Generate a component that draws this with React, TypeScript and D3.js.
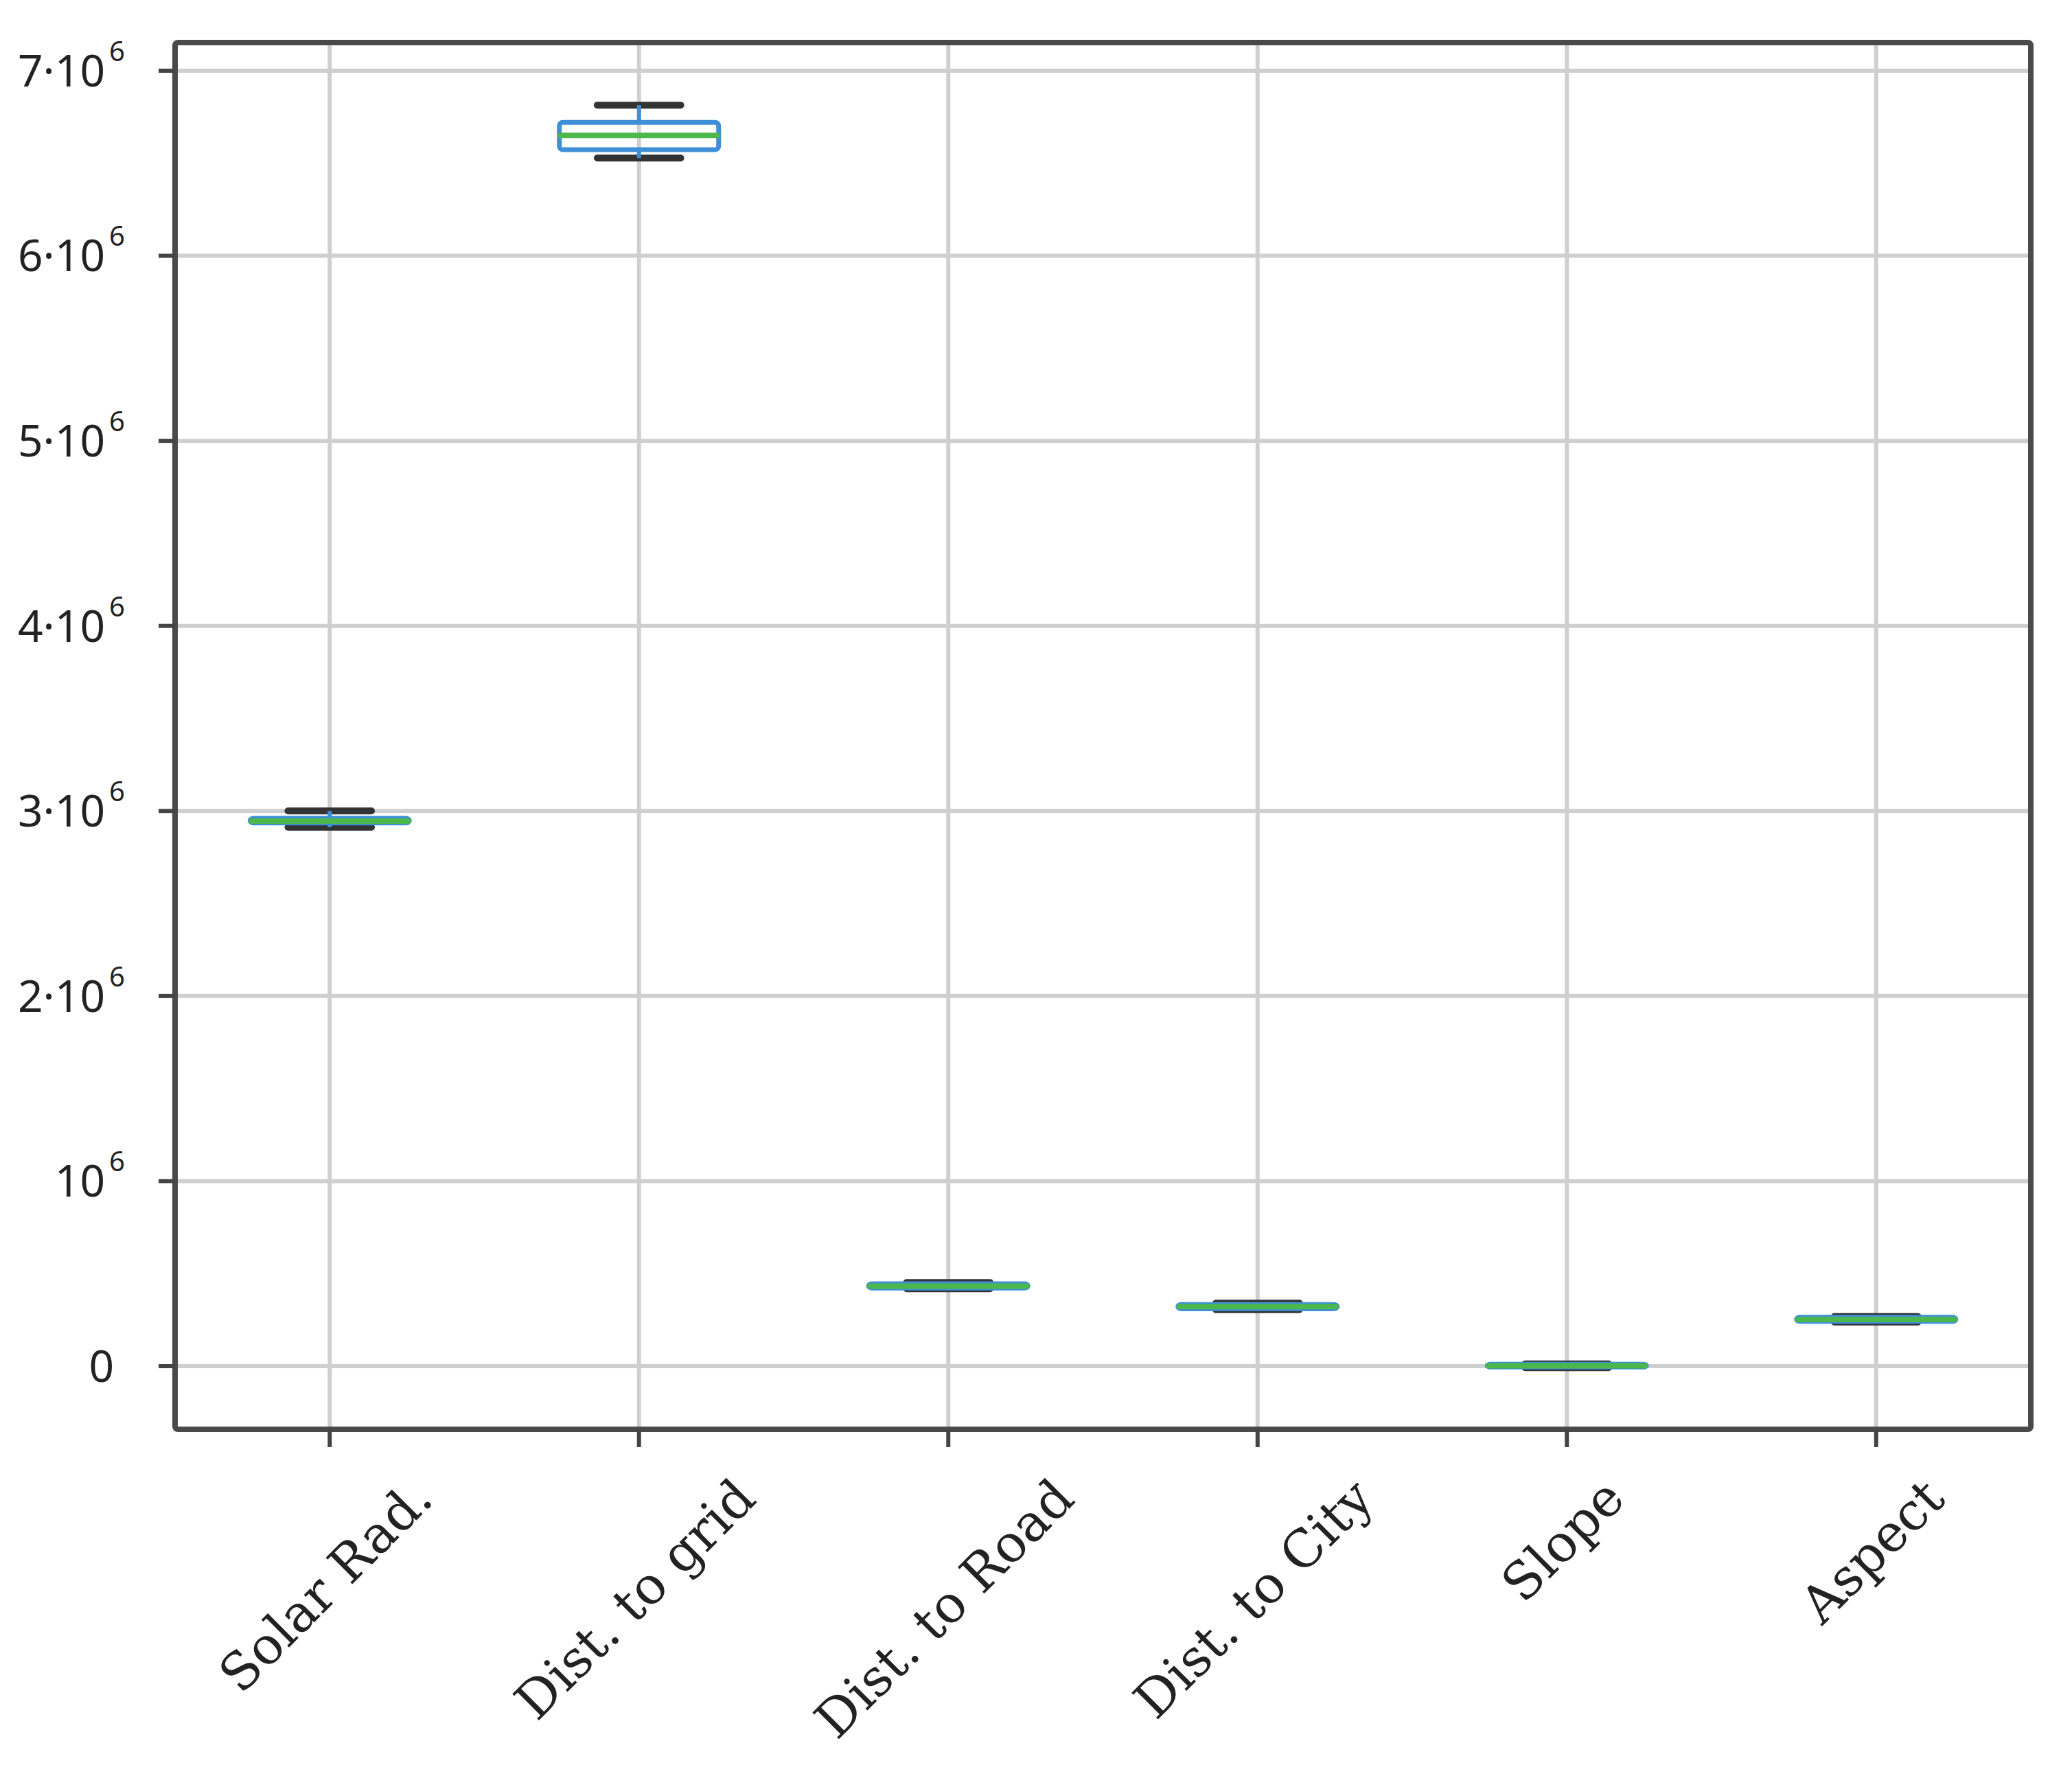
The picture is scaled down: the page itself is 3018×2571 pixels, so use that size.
import React, { useEffect, useRef } from 'react';
import * as d3 from 'd3';

const categories = ['Solar Rad.', 'Dist. to grid', 'Dist. to Road', 'Dist. to City', 'Slope', 'Aspect'];
const whiskerLow = [2.912e6, 6.528e6, 0.418e6, 0.305e6, -0.008e6, 0.238e6];
const quartile1 = [2.935e6, 6.573e6, 0.422e6, 0.31e6, -0.005e6, 0.242e6];
const medians = [2.945e6, 6.65e6, 0.432e6, 0.322e6, 0.002e6, 0.252e6];
const quartile3 = [2.96e6, 6.721e6, 0.445e6, 0.333e6, 0.01e6, 0.264e6];
const whiskerHigh = [3.0e6, 6.814e6, 0.452e6, 0.34e6, 0.012e6, 0.268e6];

const yTickValues = [0, 1e6, 2e6, 3e6, 4e6, 5e6, 6e6, 7e6];
const yTickMain = ['0', '10', '2·10', '3·10', '4·10', '5·10', '6·10', '7·10'];
const yTickExp = ['', '6', '6', '6', '6', '6', '6', '6'];

const W = 3018;
const H = 2571;
const M = { left: 255, right: 2958, top: 62, bottom: 2082 };

export default function App() {
  const ref = useRef<SVGSVGElement>(null);

  useEffect(() => {
    const svg = d3.select(ref.current);
    svg.selectAll('*').remove();

    const y = d3.scaleLinear().domain([-0.3413e6, 7.1521e6]).range([M.bottom, M.top]);
    const x = d3.scaleBand<string>().domain(categories).range([M.left, M.right]).padding(0);
    const bw = x.bandwidth();
    const cx = (c: string) => (x(c) as number) + bw / 2;

    const gridColor = '#cfcfcf';
    svg.append('g').selectAll('line').data(yTickValues).join('line')
      .attr('x1', M.left).attr('x2', M.right)
      .attr('y1', d => y(d)).attr('y2', d => y(d))
      .attr('stroke', gridColor).attr('stroke-width', 6);
    svg.append('g').selectAll('line').data(categories).join('line')
      .attr('x1', d => cx(d)).attr('x2', d => cx(d))
      .attr('y1', M.top).attr('y2', M.bottom)
      .attr('stroke', gridColor).attr('stroke-width', 6);

    const boxW = bw * 0.515;
    const capW = bw * 0.27;
    const blue = '#3f8fd8';
    const green = '#4cb84c';
    const capColor = '#333';

    const rows = categories.map((c, i) => ({
      c, lo: whiskerLow[i], q1: quartile1[i], med: medians[i], q3: quartile3[i], hi: whiskerHigh[i],
    }));
    const g = svg.append('g');
    g.selectAll('line.cap').data(rows.flatMap(r => [{ c: r.c, v: r.lo }, { c: r.c, v: r.hi }])).join('line')
      .attr('class', 'cap')
      .attr('x1', d => cx(d.c) - capW / 2).attr('x2', d => cx(d.c) + capW / 2)
      .attr('y1', d => y(d.v)).attr('y2', d => y(d.v))
      .attr('stroke', capColor).attr('stroke-width', 10).attr('stroke-linecap', 'round');
    g.selectAll('line.wlo').data(rows).join('line')
      .attr('x1', d => cx(d.c)).attr('x2', d => cx(d.c))
      .attr('y1', d => y(d.lo)).attr('y2', d => y(d.q1))
      .attr('stroke', blue).attr('stroke-width', 6);
    g.selectAll('line.whi').data(rows).join('line')
      .attr('x1', d => cx(d.c)).attr('x2', d => cx(d.c))
      .attr('y1', d => y(d.hi)).attr('y2', d => y(d.q3))
      .attr('stroke', blue).attr('stroke-width', 6);
    g.selectAll('rect').data(rows).join('rect')
      .attr('x', d => cx(d.c) - boxW / 2).attr('width', boxW)
      .attr('y', d => y(d.q3)).attr('height', d => Math.max(0.5, y(d.q1) - y(d.q3)))
      .attr('rx', 5)
      .attr('fill', 'none').attr('stroke', blue).attr('stroke-width', 7);
    g.selectAll('line.med').data(rows).join('line')
      .attr('x1', d => cx(d.c) - boxW / 2 + 2).attr('x2', d => cx(d.c) + boxW / 2 - 2)
      .attr('y1', d => y(d.med)).attr('y2', d => y(d.med))
      .attr('stroke', green).attr('stroke-width', 8).attr('stroke-linecap', 'round');

    svg.append('rect')
      .attr('x', M.left).attr('y', M.top)
      .attr('width', M.right - M.left).attr('height', M.bottom - M.top)
      .attr('fill', 'none').attr('stroke', '#4a4a4a').attr('stroke-width', 8)
      .attr('stroke-linejoin', 'round').attr('rx', 4);

    svg.append('g').selectAll('line').data(yTickValues).join('line')
      .attr('x1', M.left - 24).attr('x2', M.left)
      .attr('y1', d => y(d)).attr('y2', d => y(d))
      .attr('stroke', '#444').attr('stroke-width', 6);

    const yfs = 64;
    const font = '"Noto Sans", "Open Sans", sans-serif';
    const yg = svg.append('g');
    yg.selectAll('text.main').data(yTickValues).join('text')
      .attr('class', 'main')
      .attr('x', (d, i) => (yTickExp[i] ? 153 : 166))
      .attr('y', d => y(d) + yfs * 0.357)
      .attr('text-anchor', 'end')
      .attr('font-family', font)
      .attr('font-size', yfs).attr('fill', '#222')
      .text((d, i) => yTickMain[i]);
    yg.selectAll('text.exp').data(yTickValues).join('text')
      .attr('class', 'exp')
      .attr('x', 159)
      .attr('y', d => y(d) + yfs * 0.357 - 37)
      .attr('text-anchor', 'start')
      .attr('font-family', font)
      .attr('font-size', 40).attr('fill', '#222')
      .text((d, i) => yTickExp[i]);

    svg.append('g').selectAll('line').data(categories).join('line')
      .attr('x1', d => cx(d)).attr('x2', d => cx(d))
      .attr('y1', M.bottom).attr('y2', M.bottom + 26)
      .attr('stroke', '#444').attr('stroke-width', 6);

    const fs = 75;
    const top = 2138;
    const xl = svg.append('g').selectAll('text').data(categories).join('text')
      .text(d => d)
      .attr('text-anchor', 'middle')
      .attr('dominant-baseline', 'central')
      .attr('font-family', '"DejaVu Serif", serif')
      .attr('font-size', fs).attr('fill', '#222');
    xl.each(function (d) {
      const el = this as SVGTextElement;
      const L = el.getComputedTextLength();
      const h = fs * 1.15;
      const bh = (L + h) / Math.SQRT2;
      const ty = top + bh / 2;
      d3.select(el).attr('transform', `translate(${cx(d) - 6},${ty}) rotate(-45)`);
    });
  }, []);

  return (
    <svg ref={ref} width={W} height={H}
      style={{ position: 'absolute', left: 0, top: 0, background: '#fff', display: 'block' }} />
  );
}
